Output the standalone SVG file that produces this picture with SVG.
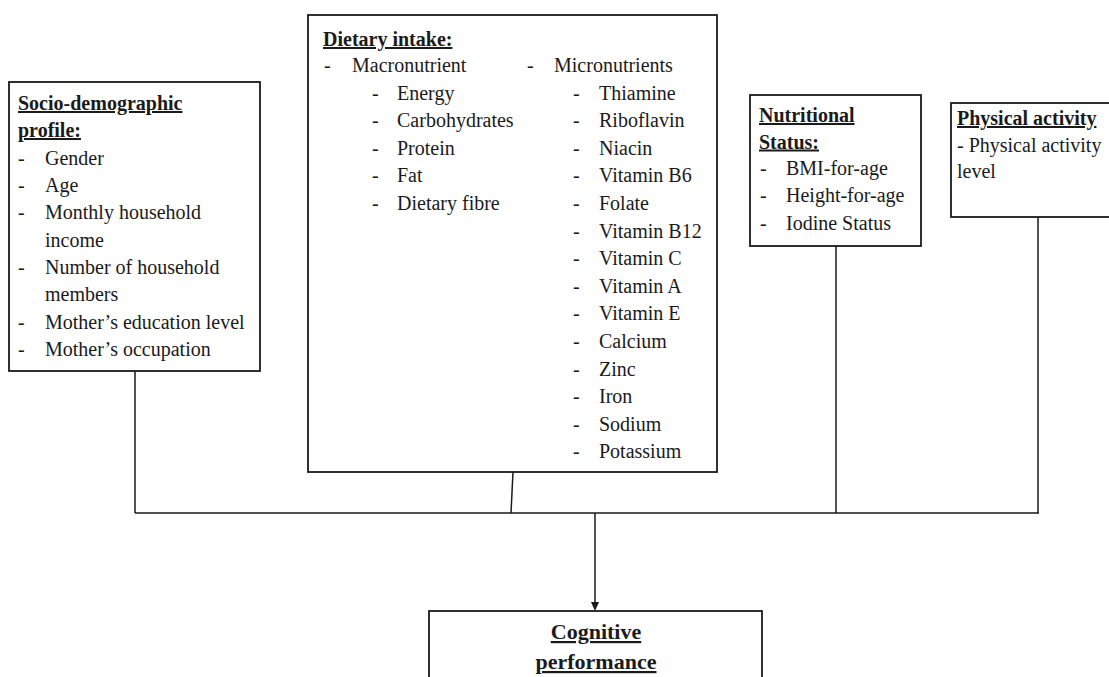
<svg xmlns="http://www.w3.org/2000/svg" width="1109" height="677" viewBox="0 0 1109 677">
<style>
text{font-family:"Liberation Serif","Times New Roman",serif;font-size:20px;fill:#1a1a1a}
.b{font-weight:bold;text-decoration:underline}
.box{fill:#fff;stroke:#1a1a1a;stroke-width:1.8}
.con{fill:none;stroke:#1a1a1a;stroke-width:1.5}
.t{font-size:22px}
</style>
<defs>
<marker id="ah" markerWidth="8" markerHeight="8" refX="4" refY="7" orient="auto" markerUnits="userSpaceOnUse">
<path d="M0,0 L8,0 L4,8 Z" transform="rotate(-90 4 4)" fill="#1a1a1a"/>
</marker>
</defs>
<rect width="1109" height="677" fill="#fff"/>
<g id="connectors">
<path class="con" d="M135,371 V513 M513,472 L511,513 M836,246 V513 M1038,217 V513 M135,513 H1039"/>
<path class="con" d="M595,513 V603"/>
<path d="M591,602 L599,602 L595,611 Z" fill="#1a1a1a"/>
</g>
<g id="socio">
<rect class="box" x="9" y="82" width="251" height="289"/>
<text class="b" x="18" y="110">Socio-demographic</text>
<text class="b" x="18" y="137">profile:</text>
<g>
<text x="18" y="164.5">-</text><text x="45" y="164.5">Gender</text>
<text x="18" y="192">-</text><text x="45" y="192">Age</text>
<text x="18" y="219">-</text><text x="45" y="219">Monthly household</text>
<text x="45" y="246.5">income</text>
<text x="18" y="274">-</text><text x="45" y="274">Number of household</text>
<text x="45" y="301">members</text>
<text x="18" y="328.5">-</text><text x="45" y="328.5">Mother’s education level</text>
<text x="18" y="356">-</text><text x="45" y="356">Mother’s occupation</text>
</g>
</g>
<g id="dietary">
<rect class="box" x="308" y="15" width="409" height="457"/>
<text class="b" x="323" y="46">Dietary intake:</text>
<text x="324" y="72">-</text><text x="352" y="72">Macronutrient</text>
<text x="372" y="99.6">-</text><text x="397" y="99.6">Energy</text>
<text x="372" y="127.2">-</text><text x="397" y="127.2">Carbohydrates</text>
<text x="372" y="154.8">-</text><text x="397" y="154.8">Protein</text>
<text x="372" y="182.4">-</text><text x="397" y="182.4">Fat</text>
<text x="372" y="210">-</text><text x="397" y="210">Dietary fibre</text>
<text x="527" y="72">-</text><text x="554" y="72">Micronutrients</text>
<text x="573" y="99.6">-</text><text x="599" y="99.6">Thiamine</text>
<text x="573" y="127.2">-</text><text x="599" y="127.2">Riboflavin</text>
<text x="573" y="154.8">-</text><text x="599" y="154.8">Niacin</text>
<text x="573" y="182.4">-</text><text x="599" y="182.4">Vitamin B6</text>
<text x="573" y="210">-</text><text x="599" y="210">Folate</text>
<text x="573" y="237.6">-</text><text x="599" y="237.6">Vitamin B12</text>
<text x="573" y="265.2">-</text><text x="599" y="265.2">Vitamin C</text>
<text x="573" y="292.8">-</text><text x="599" y="292.8">Vitamin A</text>
<text x="573" y="320.4">-</text><text x="599" y="320.4">Vitamin E</text>
<text x="573" y="348">-</text><text x="599" y="348">Calcium</text>
<text x="573" y="375.6">-</text><text x="599" y="375.6">Zinc</text>
<text x="573" y="403.2">-</text><text x="599" y="403.2">Iron</text>
<text x="573" y="430.8">-</text><text x="599" y="430.8">Sodium</text>
<text x="573" y="458.4">-</text><text x="599" y="458.4">Potassium</text>
</g>
<g id="nutritional">
<rect class="box" x="750" y="95" width="171" height="151"/>
<text class="b" x="759" y="122">Nutritional</text>
<text class="b" x="759" y="148.5">Status:</text>
<text x="760" y="175">-</text><text x="786" y="175">BMI-for-age</text>
<text x="760" y="202">-</text><text x="786" y="202">Height-for-age</text>
<text x="760" y="229.5">-</text><text x="786" y="229.5">Iodine Status</text>
</g>
<g id="physical">
<rect class="box" x="951" y="103" width="170" height="114"/>
<text class="b" x="957" y="125">Physical activity</text>
<text x="957" y="152">- Physical activity</text>
<text x="957" y="178">level</text>
</g>
<g id="cognitive">
<rect class="box" x="429" y="611" width="333" height="90"/>
<text class="b t" x="596" y="639" text-anchor="middle">Cognitive</text>
<text class="b t" x="596" y="669" text-anchor="middle">performance</text>
</g>
</svg>
